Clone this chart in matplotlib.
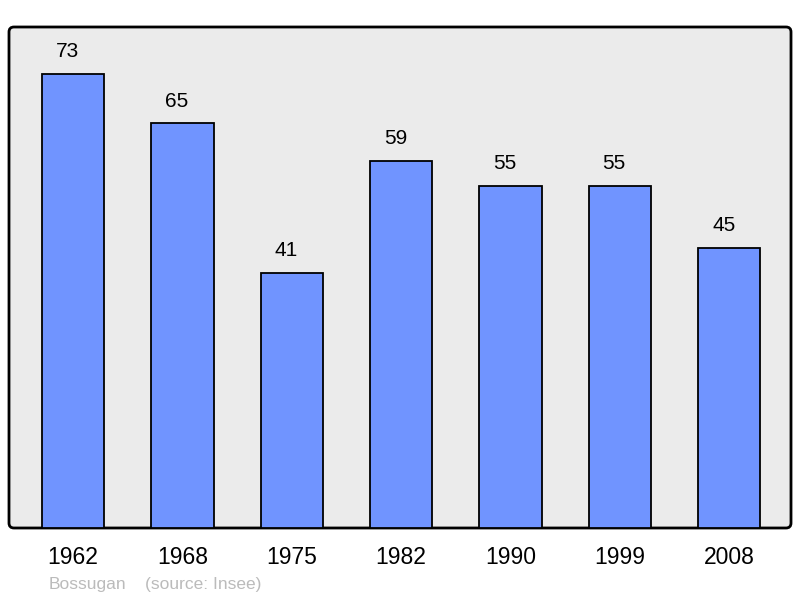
import matplotlib.pyplot as plt
from matplotlib.patches import FancyBboxPatch

years = ['1962', '1968', '1975', '1982', '1990', '1999', '2008']
population = [73, 65, 41, 59, 55, 55, 45]

plt.rcParams['font.family'] = ['Liberation Sans', 'DejaVu Sans']

fig = plt.figure(figsize=(8, 5.98), dpi=100)
ax = fig.add_axes([9 / 800, 70 / 598, 782 / 800, 501 / 598])
ax.set_facecolor('none')

# panel background with rounded corners, in inches
panel = FancyBboxPatch((0.09, 0.70), 7.82, 5.01,
                       boxstyle='round,pad=0,rounding_size=0.05',
                       transform=fig.dpi_scale_trans,
                       facecolor='#ebebeb', edgecolor='black', linewidth=2,
                       clip_on=False, zorder=0)
ax.add_patch(panel)

x = range(len(years))
ax.bar(x, population, width=0.57, color='#7094ff', edgecolor='black',
       linewidth=1.3, zorder=2)
for i, v in zip(x, population):
    ax.annotate(str(v), (i, v), xytext=(-4, 9), textcoords='offset points',
                ha='center', va='bottom', fontsize=15)

ax.set_xlim(-0.585, 6.565)
ax.set_ylim(0, 80.5)
for s in ax.spines.values():
    s.set_visible(False)
ax.set_yticks([])
ax.set_xticks(list(x))
ax.set_xticklabels(years, fontsize=16.5)
ax.tick_params(axis='x', length=0, pad=13)

fig.text(49 / 800, 1 - 584 / 598, 'Bossugan', color='#bbbbbb', fontsize=12.5,
         va='center', ha='left')
fig.text(145 / 800, 1 - 584 / 598, '(source: Insee)', color='#bbbbbb',
         fontsize=12.5, va='center', ha='left')

fig.savefig('out.png', dpi=100)
